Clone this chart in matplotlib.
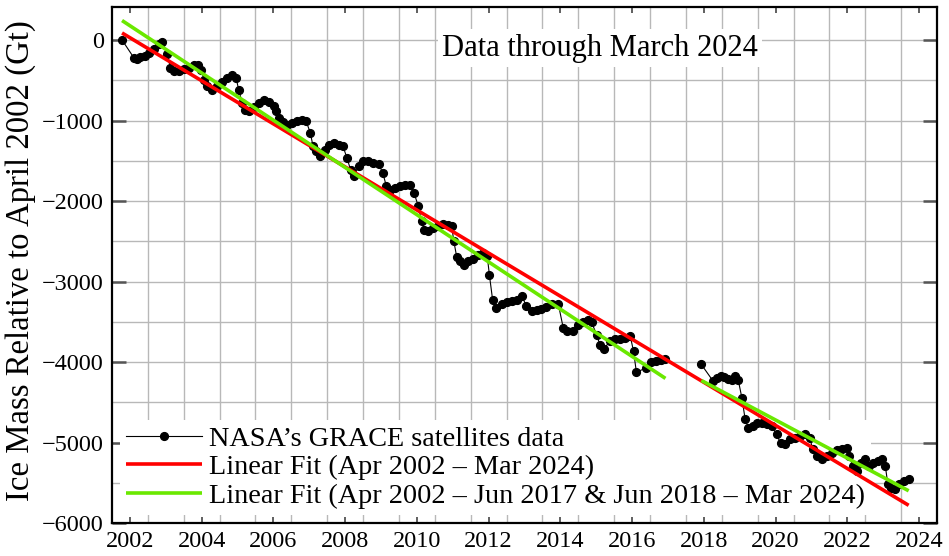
import numpy as np
import matplotlib
matplotlib.use("Agg")
import matplotlib.pyplot as plt
from matplotlib.ticker import FixedLocator, FixedFormatter

# ---- data (decimal year, Gt relative to April 2002) ----
years = [2002.28, 2002.61, 2002.70, 2002.79, 2002.93, 2003.04, 2003.17, 2003.31, 2003.40,
         2003.54, 2003.63, 2003.73, 2003.86, 2004.00, 2004.14, 2004.28, 2004.40, 2004.49,
         2004.56, 2004.65, 2004.79, 2004.93, 2005.07, 2005.21, 2005.35, 2005.46, 2005.53,
         2005.63, 2005.72, 2005.83, 2005.95, 2006.09, 2006.23, 2006.37, 2006.51, 2006.56,
         2006.65, 2006.76, 2006.88, 2007.02, 2007.16, 2007.30, 2007.41, 2007.53, 2007.60,
         2007.69, 2007.81, 2007.93, 2008.04, 2008.18, 2008.32, 2008.44, 2008.55, 2008.65,
         2008.74, 2008.88, 2008.99, 2009.14, 2009.27, 2009.43, 2009.55, 2009.65, 2009.76,
         2009.90, 2010.03, 2010.17, 2010.31, 2010.42, 2010.54, 2010.63, 2010.70, 2010.82,
         2010.96, 2011.10, 2011.24, 2011.37, 2011.47, 2011.53, 2011.61, 2011.70, 2011.81,
         2011.93, 2012.07, 2012.21, 2012.35, 2012.46, 2012.52, 2012.61, 2012.70, 2012.86,
         2013.00, 2013.14, 2013.28, 2013.44, 2013.54, 2013.70, 2013.84, 2013.97, 2014.11,
         2014.28, 2014.44, 2014.58, 2014.69, 2014.84, 2015.00, 2015.14, 2015.27, 2015.37,
         2015.51, 2015.60, 2015.71, 2015.88, 2016.02, 2016.16, 2016.30, 2016.45, 2016.54,
         2016.62, 2016.89, 2017.03, 2017.17, 2017.31, 2017.43,
         2018.43, 2018.76, 2018.87, 2018.97, 2019.06, 2019.18, 2019.28, 2019.37, 2019.46,
         2019.56, 2019.65, 2019.74, 2019.86, 2019.99, 2020.11, 2020.25, 2020.39, 2020.53,
         2020.64, 2020.76, 2020.90, 2021.04, 2021.18, 2021.31, 2021.45, 2021.54, 2021.66,
         2021.78, 2021.92, 2022.06, 2022.20, 2022.34, 2022.48, 2022.55, 2022.66, 2022.77,
         2022.89, 2022.98, 2023.10, 2023.21, 2023.35, 2023.47, 2023.56, 2023.63, 2023.72,
         2023.84, 2023.95, 2024.09, 2024.21]

mass = [0, -221, -234, -209, -193, -160, -110, -44, -27,
        -180, -346, -387, -387, -358, -346, -305, -305, -367,
        -491, -573, -615, -573, -524, -470, -429, -470, -615,
        -781, -872, -884, -830, -781, -748, -773, -822, -884,
        -967, -1021, -1062, -1029, -1000, -988, -1008, -1153, -1311,
        -1382, -1444, -1361, -1299, -1279, -1299, -1320, -1465, -1610,
        -1693, -1569, -1507, -1507, -1527, -1536, -1652, -1818, -1859,
        -1838, -1808, -1795, -1795, -1899, -2065, -2251, -2355, -2375,
        -2334, -2305, -2280, -2292, -2313, -2500, -2694, -2748, -2790,
        -2748, -2719, -2665, -2645, -2678, -2914, -3225, -3329, -3275,
        -3259, -3246, -3225, -3184, -3300, -3370, -3358, -3341, -3316,
        -3275, -3275, -3576, -3618, -3618, -3543, -3502, -3473, -3506,
        -3660, -3784, -3838, -3743, -3710, -3714, -3702, -3681, -3867,
        -4128, -4073, -3998, -3990, -3970, -3961,
        -4031, -4238, -4195, -4176, -4184, -4209, -4226, -4176, -4226,
        -4445, -4706, -4818, -4789, -4756, -4756, -4776, -4797, -4900,
        -5012, -5024, -4962, -4942, -4921, -4900, -4942, -5086, -5169,
        -5210, -5169, -5127, -5094, -5086, -5065, -5169, -5293, -5355,
        -5251, -5202, -5293, -5251, -5231, -5210, -5293, -5521, -5562,
        -5583, -5521, -5479, -5450]

gap_start = 2017.5   # end of GRACE (Jun 2017)
gap_end = 2018.4     # start of GRACE-FO (Jun 2018)

year_labels = ["2002", "2004", "2006", "2008", "2010", "2012",
               "2014", "2016", "2018", "2020", "2022", "2024"]
y_ticks = [0, -1000, -2000, -3000, -4000, -5000, -6000]

legend_labels = ["NASA\u2019s GRACE satellites data",
                 "Linear Fit (Apr 2002 \u2013 Mar 2024)",
                 "Linear Fit (Apr 2002 \u2013 Jun 2017 & Jun 2018 \u2013 Mar 2024)"]

plt.rcParams['font.family'] = ['Liberation Serif', 'DejaVu Serif']
plt.rcParams['axes.unicode_minus'] = True

t = np.array(years)
m = np.array(mass)
seg1 = t <= gap_start
seg2 = t >= gap_end

fig = plt.figure(figsize=(9.49, 5.56), dpi=100)
ax = fig.add_axes([112/949, 33/556, 825/949, 516/556])

# data (GRACE and GRACE-FO drawn separately, no line across the gap)
ax.plot(t[seg1], m[seg1], color='black', lw=0.8, marker='o', ms=5.6, mfc='black',
        mec='black', zorder=3, label=legend_labels[0])
ax.plot(t[seg2], m[seg2], color='black', lw=0.8, marker='o', ms=5.6, mfc='black',
        mec='black', zorder=3)

# full linear fit
p_all = np.polyfit(t, m, 1)
tt = np.array([t.min(), t.max()])
ax.plot(tt, np.polyval(p_all, tt), color='#ff0000', lw=2.6, zorder=4,
        solid_capstyle='butt', label=legend_labels[1])

# piecewise fits
p1 = np.polyfit(t[seg1], m[seg1], 1)
p2 = np.polyfit(t[seg2], m[seg2], 1)
t1 = np.array([t[seg1].min(), t[seg1].max()])
t2 = np.array([t[seg2].min(), t[seg2].max()])
ax.plot(t1, np.polyval(p1, t1), color='#6ae800', lw=2.6, zorder=5,
        solid_capstyle='butt', label=legend_labels[2])
ax.plot(t2, np.polyval(p2, t2), color='#6ae800', lw=2.6, zorder=5,
        solid_capstyle='butt')

ax.set_xlim(2002.0, 2025.0)
ax.set_ylim(-6000, 410)

# x ticks: labels at mid-year, grid at year boundaries
label_pos = [int(s) + 0.5 for s in year_labels]
ax.xaxis.set_major_locator(FixedLocator(label_pos))
ax.xaxis.set_major_formatter(FixedFormatter(year_labels))
ax.xaxis.set_minor_locator(FixedLocator(np.arange(2003, 2025)))
ax.yaxis.set_major_locator(FixedLocator(y_ticks))
ax.yaxis.set_minor_locator(FixedLocator(np.arange(-5500, 400, 1000)))
ax.set_yticklabels([f"\u2212{abs(v)}" if v < 0 else "0" for v in y_ticks])

ax.grid(True, which='minor', axis='x', color='#b8b8b8', lw=1.0)
ax.grid(True, which='both', axis='y', color='#b8b8b8', lw=1.0)
ax.set_axisbelow(True)

ax.tick_params(axis='x', which='major', direction='in', length=4, width=1.2,
               color='#444444', top=True, labelsize=17.5, pad=6)
ax.tick_params(axis='x', which='minor', length=0, top=True)
ax.tick_params(axis='y', which='major', direction='in', length=10, width=1.8,
               color='#555555', right=True, labelsize=17.5, pad=6)
ax.tick_params(axis='y', which='minor', length=0)

for s in ax.spines.values():
    s.set_linewidth(1.6)
    s.set_color('black')

ax.set_ylabel("Ice Mass Relative to April 2002 (Gt)", fontsize=23.6)
ax.yaxis.set_label_coords(-0.092, 0.508)

ax.text(2015.6, -100, "Data through March 2024", fontsize=22, ha='center',
        va='center', zorder=6,
        bbox=dict(facecolor='white', edgecolor='none', pad=3))

leg = ax.legend(loc='lower left', bbox_to_anchor=(0.0, 0.0), fontsize=20.3,
                frameon=True, facecolor='white', edgecolor='none', framealpha=1,
                handlelength=2.7, handletextpad=0.25, labelspacing=0.1,
                borderpad=0.2, borderaxespad=0.3, numpoints=1, fancybox=False)
leg.set_zorder(2)

fig.savefig("out.png", dpi=100)
